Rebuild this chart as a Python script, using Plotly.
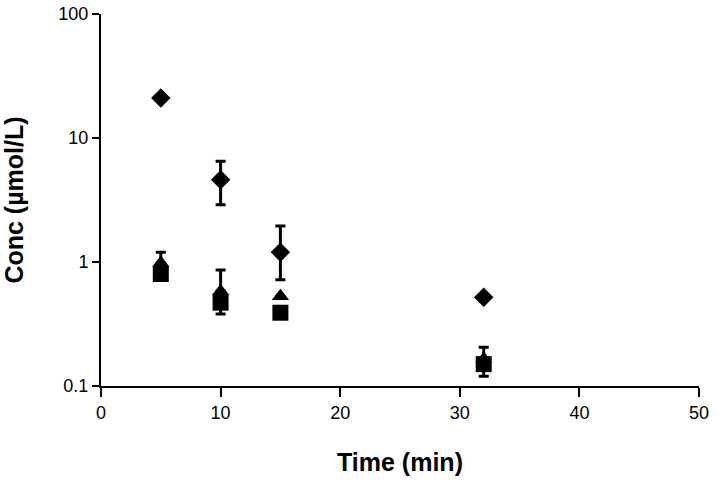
import plotly.graph_objects as go

time = [5, 10, 15, 32]

diamond_y = [21, 4.6, 1.2, 0.52]
diamond_up = [0, 1.9, 0.75, 0]
diamond_down = [0, 1.7, 0.48, 0]

triangle_y = [0.98, 0.58, 0.53, 0.165]
triangle_up = [0.22, 0.28, 0, 0]
triangle_down = [0, 0, 0, 0]

square_y = [0.8, 0.47, 0.39, 0.15]
square_up = [0, 0, 0, 0.055]
square_down = [0, 0.09, 0, 0.03]

y_tickvals = [0.1, 1, 10, 100]
y_ticktext = ["0.1", "1", "10", "100"]
x_tickvals = [0, 10, 20, 30, 40, 50]

fig = go.Figure()

def add(y, up, down, symbol, size):
    fig.add_trace(go.Scatter(
        x=time, y=y, mode="markers",
        marker=dict(symbol=symbol, size=size, color="black"),
        error_y=dict(type="data", symmetric=False, array=up, arrayminus=down,
                     color="black", thickness=3, width=5),
        showlegend=False, cliponaxis=False,
    ))

add(diamond_y, diamond_up, diamond_down, "diamond", 15)
add(square_y, square_up, square_down, "square", 16)
add(triangle_y, triangle_up, triangle_down, "triangle-up", 15)

font = "Liberation Sans, Arial, sans-serif"
fig.update_layout(
    width=719, height=487,
    margin=dict(l=101, r=20, t=14, b=101),
    plot_bgcolor="white", paper_bgcolor="white",
    font=dict(family=font, size=18, color="black"),
    xaxis=dict(range=[0, 50], tickvals=x_tickvals, showgrid=False, zeroline=False,
               showline=True, linecolor="black", linewidth=2, automargin=False,
               ticks="outside", ticklen=9, tickwidth=2, tickcolor="black",
               tickfont=dict(size=18),
               title=dict(text="<b>Time (min)</b>", font=dict(size=25), standoff=32)),
    yaxis=dict(type="log", range=[-1, 2], tickvals=y_tickvals, ticktext=y_ticktext,
               showgrid=False, zeroline=False, automargin=False,
               showline=True, linecolor="black", linewidth=2,
               ticks="outside", ticklen=7, tickwidth=2, tickcolor="black",
               tickfont=dict(size=18),
               title=dict(text="<b>Conc (µmol/L)</b>", font=dict(size=25), standoff=28)),
)

fig.write_html("out.html", config={"displayModeBar": False},
               post_script="document.body.style.margin='0';")
